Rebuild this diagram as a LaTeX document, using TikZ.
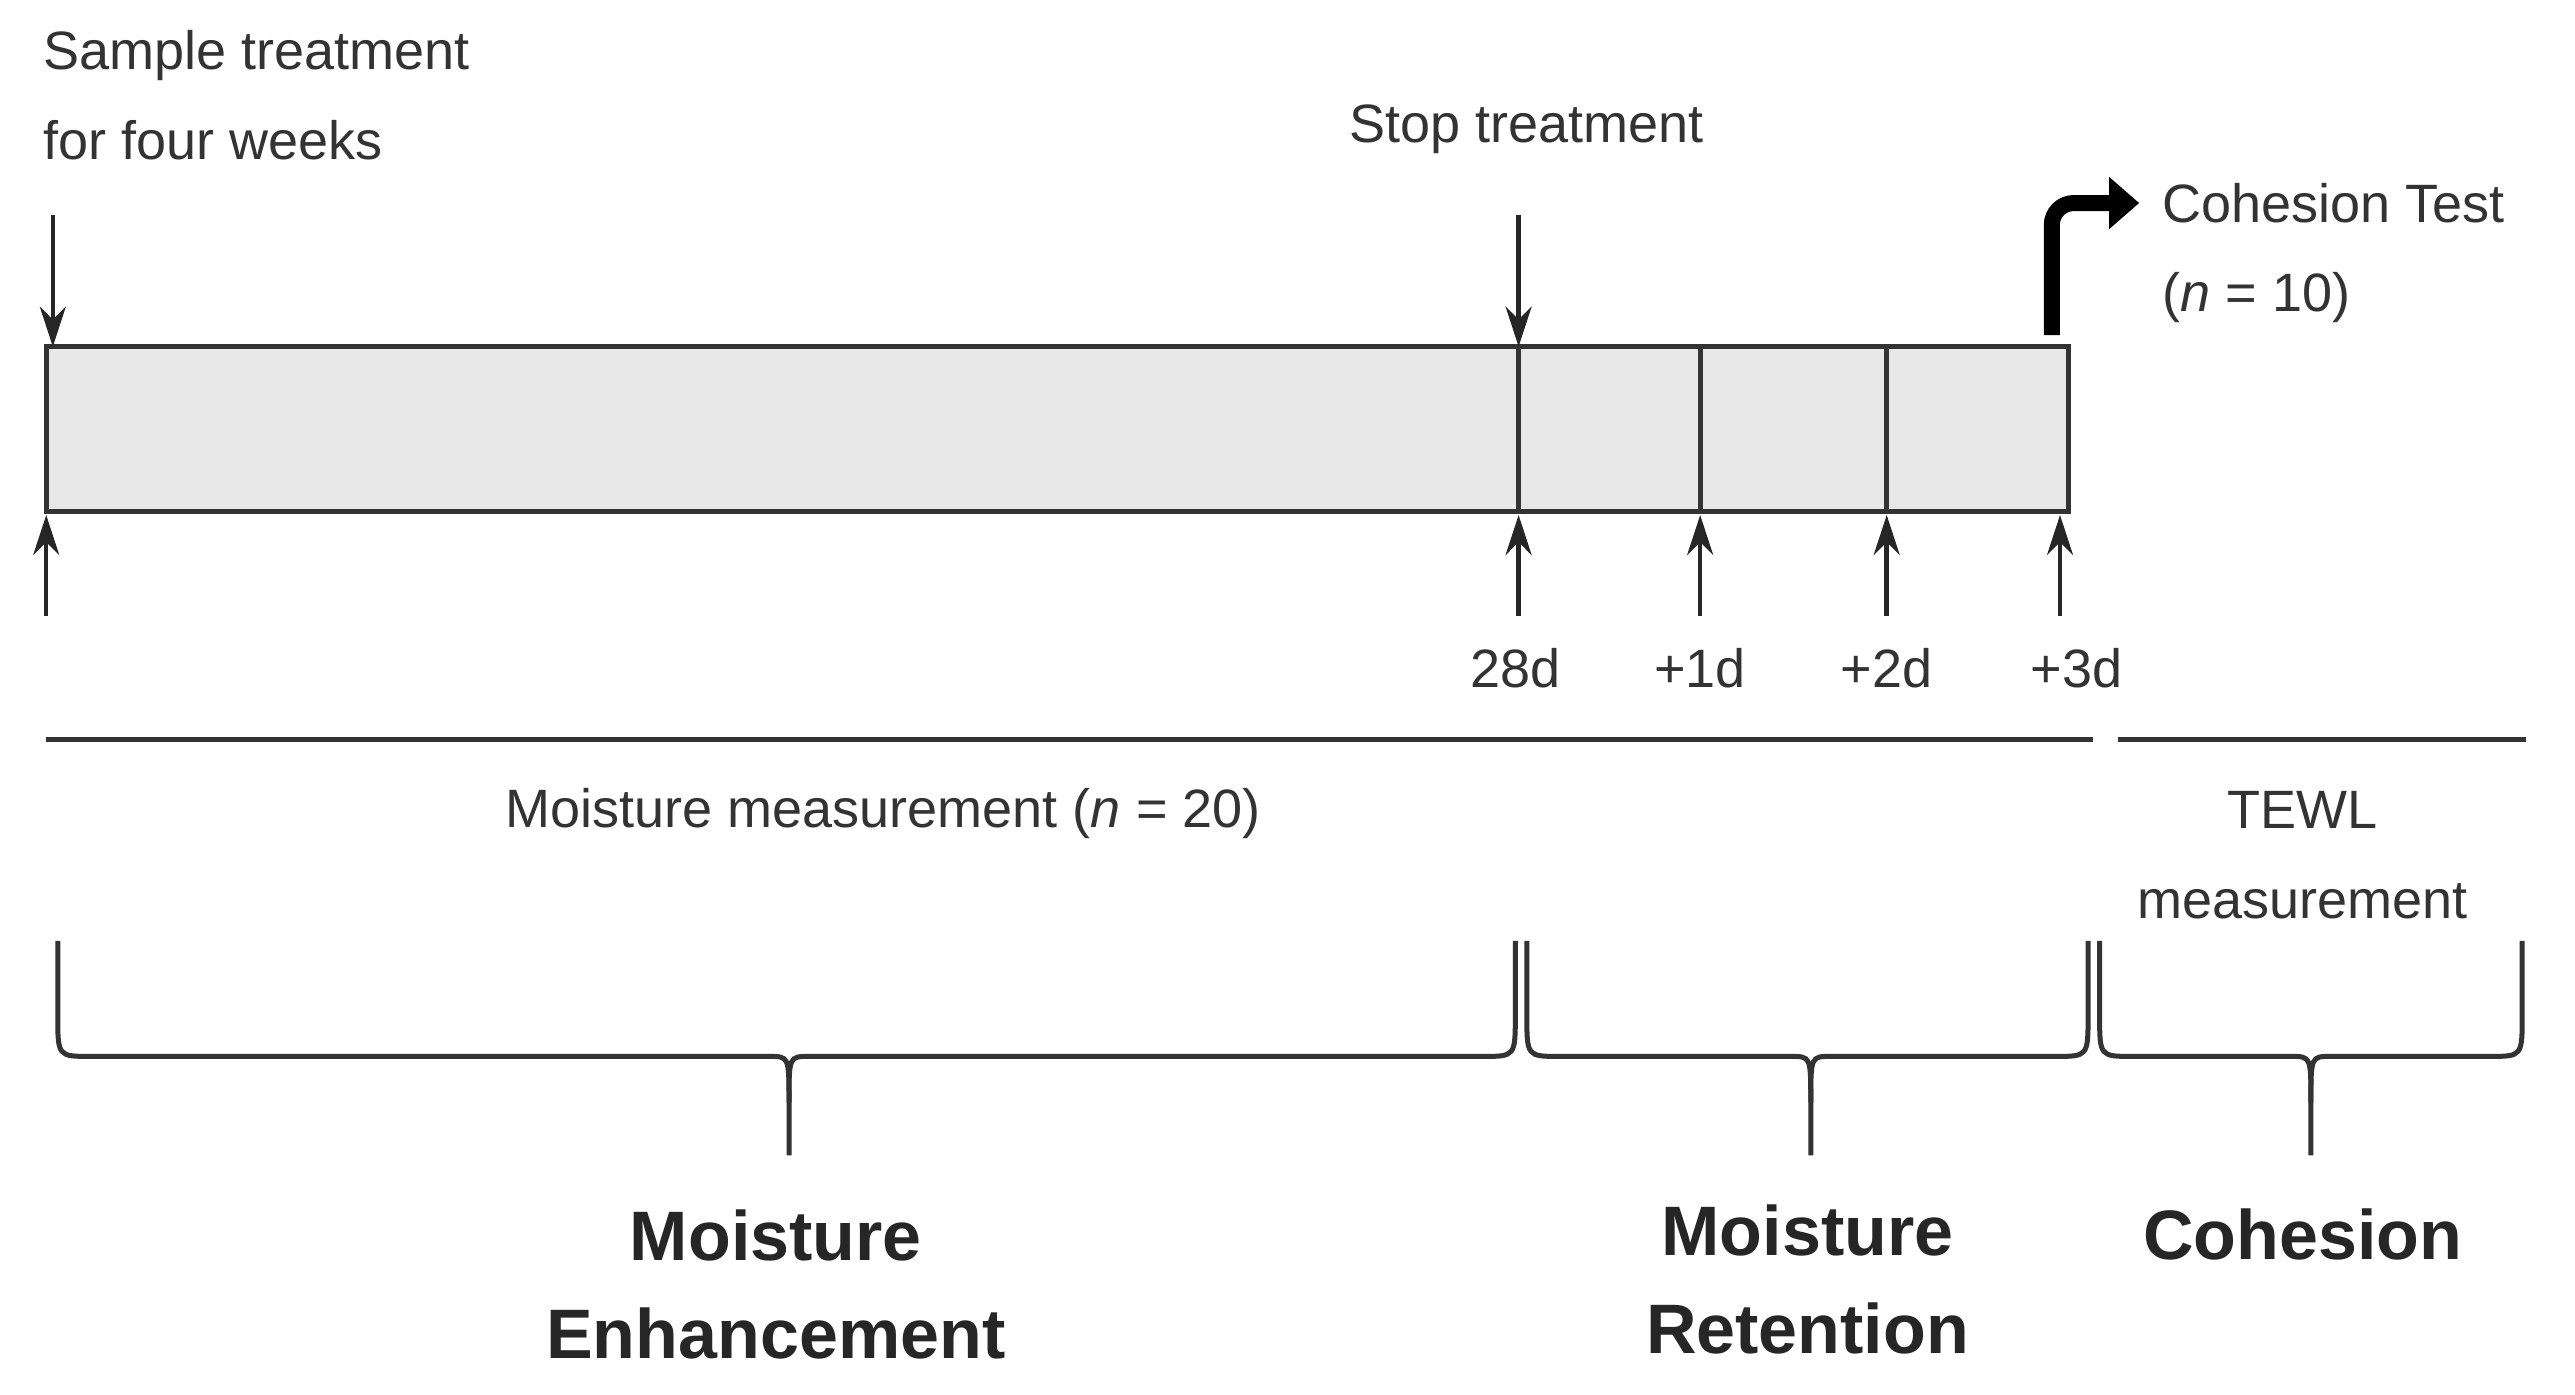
\documentclass[tikz,border=0pt]{standalone}
\usepackage{fontspec}
\setmainfont{Liberation Sans}
\usetikzlibrary{arrows.meta}
\begin{document}
\begin{tikzpicture}[x=1.65pt,y=-1.65pt,
  ln/.style={line width=5pt,draw=black!80},
  arr/.style={line width=4.5pt,draw=black!85,-{Stealth[length=40pt,width=26pt]}},
  txt/.style={font=\fontsize{54}{90}\selectfont,text=black!80,inner sep=0pt},
  big/.style={font=\fontsize{70}{98}\selectfont\bfseries,text=black!85,inner sep=0pt,align=center}]
\useasboundingbox (0,0) rectangle (1560,845);
% bar
\draw[ln,fill=black!9] (28,210) rectangle (1253,310);
\foreach \x in {920,1030,1143}{\draw[ln] (\x,210) -- (\x,310);}
% top arrows
\coordinate (s1) at (32,130); \coordinate (e1) at (32,210);
\coordinate (s2) at (920,130); \coordinate (e2) at (920,210);
\draw[arr] (s1) -- (e1);
\draw[arr] (s2) -- (e2);
\node[txt,anchor=north west,align=left] (sample) at (26,18) {Sample treatment\\for four weeks};
\node[txt] (stop) at (925,78) {Stop treatment};
% bottom arrows
\foreach \x/\n in {28/a,920/b,1030/c,1143/d,1248/e}{
  \coordinate (u\n) at (\x,373); \coordinate (v\n) at (\x,312);
  \draw[arr] (u\n) -- (v\n);}
\node[txt] (d28) at (918,405) {28d};
\node[txt] (d1) at (1030,405) {+1d};
\node[txt] (d2) at (1143,405) {+2d};
\node[txt] (d3) at (1258,405) {+3d};
% cohesion test arrow
\coordinate (c0) at (1243,203); \coordinate (c1) at (1296,123);
\draw[line width=16pt,draw=black,-{Triangle[length=30pt,width=50pt]},rounded corners=22pt] (c0) -- (1243,123) -- (c1);
\node[txt,anchor=west] (ct) at (1310,123) {Cohesion Test};
\node[txt,anchor=west] (ctn) at (1310,180) {(\textit{n} = 10)};
% lines
\draw[ln] (28,448) -- (1268,448);
\draw[ln] (1283,448) -- (1530,448);
\node[txt] (mm) at (535,493) {Moisture measurement (\textit{n} = 20)};
\node[txt,align=center] (tewl) at (1395,518) {TEWL\\measurement};
% braces
\def\brace#1#2#3{\draw[ln] (#1,570) -- (#1,615) .. controls (#1,640) .. (#1+20,640) -- (#3-12,640) .. controls (#3,640) .. (#3,668) -- (#3,700);
  \draw[ln] (#2,570) -- (#2,615) .. controls (#2,640) .. (#2-20,640) -- (#3+12,640) .. controls (#3,640) .. (#3,668);}
\brace{35}{918}{478}
\brace{925}{1265}{1097}
\brace{1272}{1528}{1400}
\node[big] (me) at (470,778) {Moisture\\Enhancement};
\node[big] (mr) at (1095,775) {Moisture\\Retention};
\node[big] (co) at (1395,748) {Cohesion};
\end{tikzpicture}
\end{document}
